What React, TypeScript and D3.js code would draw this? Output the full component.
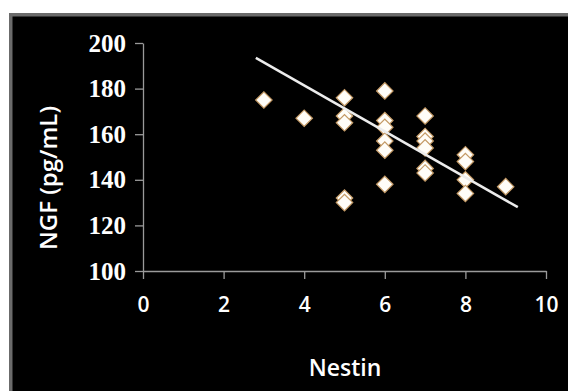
import * as d3 from "d3";
import React, { useEffect, useRef } from "react";

// Nestin vs NGF scatter values
const nestin = [3, 4, 5, 5, 5, 5, 5, 6, 6, 6, 6, 6, 6, 7, 7, 7, 7, 7, 7, 8, 8, 8, 8, 9];
const ngf = [175, 167, 176, 168, 165, 132, 130, 179, 166, 163, 157, 153, 138, 168, 159, 157, 154, 145, 143, 151, 148, 140, 134, 137];

// trend line endpoints
const trendX = [2.8, 9.3];
const trendY = [193.5, 128];

const xTicks = [0, 2, 4, 6, 8, 10];
const yTicks = [100, 120, 140, 160, 180, 200];

const W = 568;
const H = 391;

const App = () => {
    const svgRef = useRef<SVGSVGElement>(null);

    useEffect(() => {
        const svgEl = d3.select(svgRef.current);
        svgEl.selectAll("*").remove();

        // frame
        svgEl.append("rect").attr("width", W).attr("height", H).attr("fill", "#fff");
        svgEl.append("rect").attr("x", 9).attr("y", 13).attr("width", W).attr("height", H).attr("fill", "#6b6b6b");
        svgEl.append("rect").attr("x", 12.5).attr("y", 16.5).attr("width", W).attr("height", H).attr("fill", "#000");

        const xScale = d3.scaleLinear().domain([0, 10]).range([143, 546]);
        const yScale = d3.scaleLinear().domain([100, 200]).range([271, 43]);

        const axisColor = "#9a9a9a";

        const yAxis = svgEl.append("g")
            .attr("transform", `translate(${xScale(0)},0)`)
            .call(d3.axisLeft(yScale).tickValues(yTicks).tickSize(8).tickPadding(9).tickSizeOuter(0));
        yAxis.select(".domain").attr("stroke", axisColor).attr("stroke-width", 1.3);
        yAxis.selectAll(".tick line").attr("stroke", axisColor).attr("stroke-width", 1.3);
        yAxis.selectAll(".tick text")
            .attr("fill", "#fff")
            .attr("font-family", "Liberation Serif, serif")
            .attr("font-weight", "bold")
            .attr("font-size", 25);

        const xAxis = svgEl.append("g")
            .attr("transform", `translate(0,${yScale(100)})`)
            .call(d3.axisBottom(xScale).tickValues(xTicks).tickSize(8).tickPadding(26).tickSizeOuter(0));
        xAxis.select(".domain").attr("stroke", axisColor).attr("stroke-width", 1.3);
        xAxis.selectAll(".tick line").attr("stroke", axisColor).attr("stroke-width", 1.3);
        xAxis.selectAll(".tick text")
            .attr("fill", "#fff")
            .attr("font-family", "Open Sans, sans-serif")
            .attr("font-weight", 600)
            .attr("font-size", 21)
            .attr("dy", "0.35em");

        // points
        const diamond = d3.symbol().type(d3.symbolSquare).size(135);
        svgEl.append("g")
            .selectAll("path")
            .data(nestin.map((x, i) => ({ x, y: ngf[i] })))
            .enter()
            .append("path")
            .attr("d", diamond)
            .attr("transform", (d) => `translate(${xScale(d.x)},${yScale(d.y)}) rotate(45)`)
            .attr("fill", "#fffdf8")
            .attr("stroke", "#c49a66")
            .attr("stroke-width", 1.2);

        // trend line
        const line = d3.line<number>()
            .x((d) => xScale(d))
            .y((d, i) => yScale(trendY[i]));
        svgEl.append("path")
            .attr("d", line(trendX))
            .attr("fill", "none")
            .attr("stroke", "#ececec")
            .attr("stroke-width", 2.5);

        // axis titles
        svgEl.append("text")
            .attr("x", 345)
            .attr("y", 368)
            .attr("dy", "0.35em")
            .attr("text-anchor", "middle")
            .attr("fill", "#fff")
            .attr("font-family", "Open Sans, sans-serif")
            .attr("font-weight", 600)
            .attr("font-size", 23)
            .text("Nestin");

        svgEl.append("text")
            .attr("transform", `translate(49,178) rotate(-90)`)
            .attr("dy", "0.35em")
            .attr("text-anchor", "middle")
            .attr("fill", "#fff")
            .attr("font-family", "Open Sans, sans-serif")
            .attr("font-weight", 600)
            .attr("font-size", 24)
            .text("NGF (pg/mL)");
    }, []);

    return (
        <svg
            ref={svgRef}
            width={W}
            height={H}
            style={{ position: "absolute", left: 0, top: 0, display: "block" }}
        />
    );
};

export default App;
